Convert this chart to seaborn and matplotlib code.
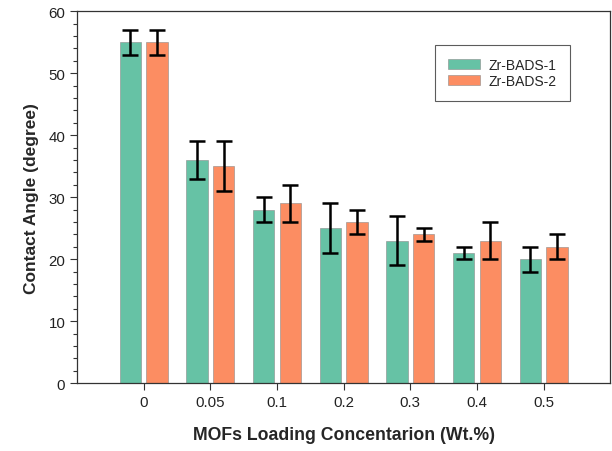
import matplotlib
matplotlib.use("Agg")
import matplotlib.pyplot as plt
import seaborn as sns
import pandas as pd
from matplotlib.ticker import MultipleLocator

# data
loadings = ['0', '0.05', '0.1', '0.2', '0.3', '0.4', '0.5']
series = ['Zr-BADS-1', 'Zr-BADS-2']
bads1 = [55, 36, 28, 25, 23, 21, 20]
bads1_err = [2, 3, 2, 4, 4, 1, 2]
bads2 = [55, 35, 29, 26, 24, 23, 22]
bads2_err = [2, 4, 3, 2, 1, 3, 2]
colors = ['#66c2a5', '#fc8d62']

df = pd.DataFrame({
    'loading': loadings * 2,
    'angle': bads1 + bads2,
    'sample': [series[0]] * len(loadings) + [series[1]] * len(loadings),
})
errs = [bads1_err, bads2_err]

sns.set_style('white')
plt.rcParams['font.family'] = ['Liberation Sans', 'DejaVu Sans']

fig = plt.figure(figsize=(6.12, 4.52), dpi=100)
ax = fig.add_axes([0.126, 0.150, 0.871, 0.823])

sns.barplot(data=df, x='loading', y='angle', hue='sample', order=loadings,
            hue_order=series, palette=colors, width=0.8, gap=0.2,
            edgecolor='#8a8a8a', linewidth=0.4, saturation=1, ax=ax)

# error bars on top of each bar
for cont, err in zip(ax.containers, errs):
    xs = [b.get_x() + b.get_width() / 2 for b in cont]
    ys = [b.get_height() for b in cont]
    ax.errorbar(xs, ys, yerr=err, fmt='none', ecolor='black',
                elinewidth=1.8, capsize=5.5, capthick=1.8)

ax.set_xlim(-1, 7)
ax.set_ylim(0, 60)
ax.yaxis.set_major_locator(MultipleLocator(10))
ax.yaxis.set_minor_locator(MultipleLocator(2))
ax.tick_params(axis='both', which='major', direction='out', length=5,
               width=0.8, color='#333333', labelsize=10.8, left=True, bottom=True,
               labelcolor='#222222')
ax.tick_params(axis='y', which='minor', direction='out', length=3,
               width=0.8, color='#333333', left=True)
for sp in ax.spines.values():
    sp.set_color('#333333')
    sp.set_linewidth(0.9)

ax.set_xlabel('MOFs Loading Concentarion (Wt.%)', fontsize=12.7,
              fontweight='bold', labelpad=12)
ax.set_ylabel('Contact Angle (degree)', fontsize=12.5, fontweight='bold',
              labelpad=7)

leg = ax.legend(loc='upper right', bbox_to_anchor=(0.925, 0.91),
                fontsize=10, frameon=True, fancybox=False,
                borderpad=0.95, handlelength=2.3, handleheight=0.75,
                handletextpad=0.65, labelspacing=0.15, borderaxespad=0)
leg.get_frame().set_edgecolor('#333333')
leg.get_frame().set_linewidth(0.8)

fig.savefig('out.png', dpi=100)
